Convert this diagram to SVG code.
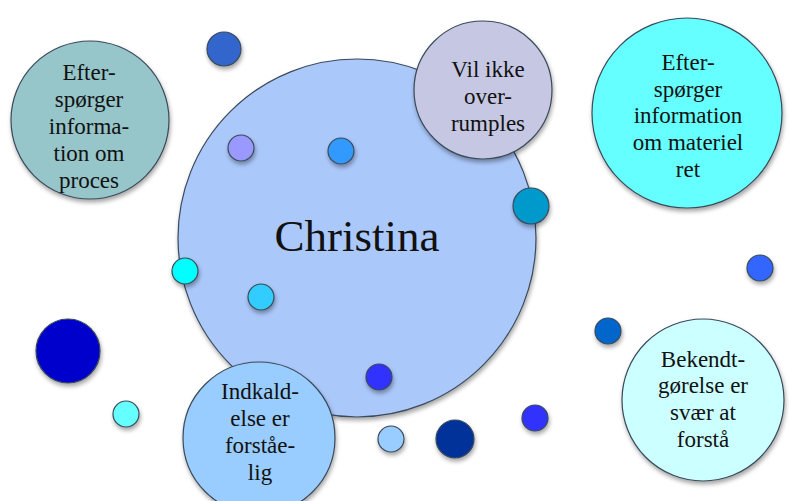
<svg xmlns="http://www.w3.org/2000/svg" width="789" height="501" viewBox="0 0 789 501">
<defs>
<filter id="sh" x="-30%" y="-30%" width="160%" height="170%">
<feDropShadow dx="1" dy="3" stdDeviation="2" flood-color="#000" flood-opacity="0.35"/>
</filter>
</defs>
<style>
circle{stroke:#3a4a5a;stroke-width:1.2;filter:url(#sh)}
text{font-family:"Liberation Serif","Times New Roman",serif;fill:#111;text-anchor:middle}
.t{font-size:23px}
.big{font-size:45px}
</style>
<rect width="789" height="501" fill="#fff"/>
<g id="n-christina"><circle cx="357" cy="238" r="179" fill="#abc8fb"/><text class="big" x="357" y="251">Christina</text></g>
<g id="n-proces"><circle cx="90" cy="120" r="79" fill="#96c5ca"/>
<text class="t" x="89" y="80">Efter-</text><text class="t" x="89" y="107">spørger</text><text class="t" x="89" y="134">informa-</text><text class="t" x="89" y="161">tion om</text><text class="t" x="89" y="188">proces</text></g>
<g id="n-overrumples"><circle cx="483" cy="90" r="69" fill="#c6c8e3"/>
<text class="t" x="488" y="77">Vil ikke</text><text class="t" x="488" y="104">over-</text><text class="t" x="488" y="131">rumples</text></g>
<g id="n-materiel"><circle cx="687" cy="113" r="95" fill="#66ffff"/>
<text class="t" x="688" y="70">Efter-</text><text class="t" x="688" y="97">spørger</text><text class="t" x="688" y="123">information</text><text class="t" x="688" y="150">om materiel</text><text class="t" x="688" y="177">ret</text></g>
<g id="n-indkaldelse"><circle cx="259" cy="438" r="76" fill="#99ccff"/>
<text class="t" x="260" y="399">Indkald-</text><text class="t" x="260" y="426">else er</text><text class="t" x="260" y="453">forståe-</text><text class="t" x="260" y="480">lig</text></g>
<g id="n-bekendtgorelse"><circle cx="703" cy="400" r="81" fill="#ccffff"/>
<text class="t" x="703" y="367">Bekendt-</text><text class="t" x="703" y="393">gørelse er</text><text class="t" x="703" y="420">svær at</text><text class="t" x="703" y="447">forstå</text></g>
<g id="dots">
<circle cx="224" cy="49" r="17" fill="#3366cc"/>
<circle cx="241" cy="148" r="13" fill="#9999ff"/>
<circle cx="341" cy="151" r="13" fill="#3399ff"/>
<circle cx="531" cy="206" r="18" fill="#0099cc"/>
<circle cx="185" cy="271" r="13" fill="#00ffff"/>
<circle cx="261" cy="297" r="13" fill="#33ccff"/>
<circle cx="68" cy="351" r="32" fill="#0000cc"/>
<circle cx="126" cy="414" r="13" fill="#66ffff"/>
<circle cx="379" cy="377" r="13" fill="#3333ff"/>
<circle cx="391" cy="439" r="13" fill="#99ccff"/>
<circle cx="455" cy="439" r="19" fill="#003399"/>
<circle cx="535" cy="418" r="13" fill="#3333ff"/>
<circle cx="608" cy="331" r="13" fill="#0066cc"/>
<circle cx="760" cy="268" r="13" fill="#3366ff"/>
</g>
</svg>
